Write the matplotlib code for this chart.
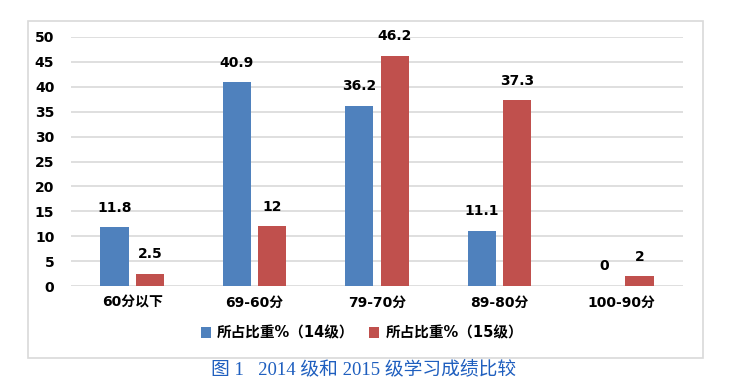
import matplotlib.pyplot as plt
import numpy as np
from matplotlib.patches import Rectangle

plt.rcParams['font.family'] = ['DejaVu Sans', 'Noto Sans CJK SC']

categories = ["60分以下", "69-60分", "79-70分", "89-80分", "100-90分"]
grade14 = [11.8, 40.9, 36.2, 11.1, 0]
grade15 = [2.5, 12, 46.2, 37.3, 2]
labels14 = ["11.8", "40.9", "36.2", "11.1", "0"]
labels15 = ["2.5", "12", "46.2", "37.3", "2"]
legend_names = ["所占比重%（14级）", "所占比重%（15级）"]
caption = "图 1   2014 级和 2015 级学习成绩比较"

blue = "#4F81BD"
red = "#C0504D"
grid_c = "#D9D9D9"

fig = plt.figure(figsize=(7.51, 3.90), dpi=100)
W, H = 751, 390

# chart border box
fig.patches.append(Rectangle((28 / W, 1 - 358 / H), (703 - 28) / W, (358 - 21) / H,
                             transform=fig.transFigure, fill=False,
                             edgecolor=grid_c, linewidth=1.2))

ax = fig.add_axes([71 / W, 1 - 286 / H, (683 - 71) / W, (286 - 37) / H])
x = np.arange(len(categories))
w = 0.23
off = 0.145
b1 = ax.bar(x - off, grade14, w, color=blue, zorder=3)
b2 = ax.bar(x + off, grade15, w, color=red, zorder=3)

for xi, v, s in zip(x - off, grade14, labels14):
    ax.annotate(s, (xi, v), xytext=(0, 9), textcoords="offset points",
                ha="center", va="bottom", fontsize=10, fontweight="bold")
for xi, v, s in zip(x + off, grade15, labels15):
    ax.annotate(s, (xi, v), xytext=(0, 9), textcoords="offset points",
                ha="center", va="bottom", fontsize=10, fontweight="bold")

ax.set_xlim(-0.5, len(categories) - 0.5)
ax.set_ylim(0, 50)
ax.set_yticks(range(0, 51, 5))
ax.set_xticks(x)
ax.set_xticklabels(categories, fontweight="bold", fontsize=10)
for lab in ax.get_yticklabels():
    lab.set_fontweight("bold")
    lab.set_fontsize(10)
ax.tick_params(length=0, pad=12)
ax.tick_params(axis="x", pad=7)
ax.yaxis.grid(True, color=grid_c, linewidth=1.2, zorder=0)
for sp in ax.spines.values():
    sp.set_visible(False)

leg = fig.legend([b1, b2], legend_names, loc="center", bbox_to_anchor=(362 / W, 1 - 333 / H),
                 ncol=2, frameon=False, handlelength=0.7, handleheight=0.7,
                 handletextpad=0.4, columnspacing=1.0,
                 prop={"weight": "bold", "size": 10.5})

fig.text(364 / W, 1 - 369 / H, caption, ha="center", va="center", color="#1F5FBF",
         fontsize=13.5, family=["Liberation Serif", "Noto Sans CJK SC"])

fig.savefig("out.png", dpi=100)
